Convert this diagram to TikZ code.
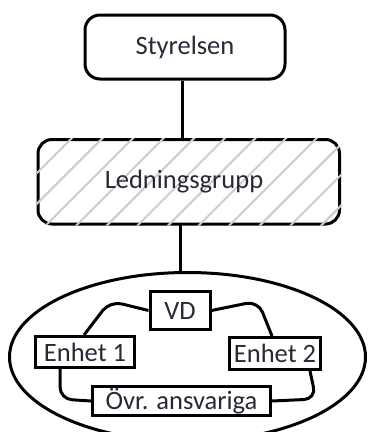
\documentclass[tikz,border=0pt]{standalone}
\usepackage{fontspec}
\setmainfont{Carlito}
\usetikzlibrary{shapes.geometric,calc}
\definecolor{txt}{RGB}{40,40,55}
\definecolor{hatch}{RGB}{205,205,205}
\begin{document}
\begin{tikzpicture}[x=1pt,y=-1pt,
  lbl/.style={font=\fontsize{26.5}{30}\selectfont, text=txt, inner sep=0pt},
  box/.style={lbl, draw=black, line width=3pt},
  conn/.style={draw=black, line width=3pt}]
\useasboundingbox (0,0) rectangle (368,432);
% Styrelsen
\node[box, rounded corners=15pt, minimum width=200pt, minimum height=64pt] (sty) at (185,47) {Styrelsen};
% Ledningsgrupp
\draw[line width=3pt, rounded corners=14pt] (38,139.5) rectangle (339.5,224);
\begin{scope}
  \clip[rounded corners=15.5pt] (36.5,138) rectangle (341,225.5);
  \foreach \k in {-3,...,12} {
    \draw[hatch, line width=2pt] ({80+30.6*\k},130) -- ({80+30.6*\k-100},230);
  }
\end{scope}
\node[lbl, minimum width=301.5pt, minimum height=84.5pt] (led) at (188.75,181.75) {};
\node[lbl] (ledt) at (184,182) {Ledningsgrupp};
\draw[conn] (sty.south -| 182.5,0) -- (182.5,139.5);
% ellipse
\node[ellipse, draw=black, line width=3pt, minimum width=356pt, minimum height=169pt, inner sep=0pt] (ell) at (187.5,357) {};
\draw[conn] (180,224) -- (ell.north -| 180,0);
% inner boxes
\node[box, minimum width=60pt, minimum height=38pt] (vd) at (180,310.5) {VD};
\node[box, minimum width=99pt, minimum height=31pt] (e1) at (85,352) {Enhet 1};
\node[box, minimum width=91pt, minimum height=32pt] (e2) at (275,353.5) {Enhet 2};
\node[box, minimum width=178pt, minimum height=29pt] (ov) at (181.5,401) {Övr. ansvariga};
% connectors inside
\draw[conn, rounded corners=12pt] (vd.west) -- (110,301) -- ([xshift=-1pt]e1.north);
\draw[conn, rounded corners=12pt] (vd.east) -- (258,301) -- ([xshift=-3pt]e2.north);
\draw[conn, rounded corners=12pt] ([xshift=-25pt]e1.south) -- (60,399) -- (ov.west);
\draw[conn, rounded corners=12pt] ([xshift=35pt]e2.south) -- (316,399) -- (ov.east);
\end{tikzpicture}
\end{document}
